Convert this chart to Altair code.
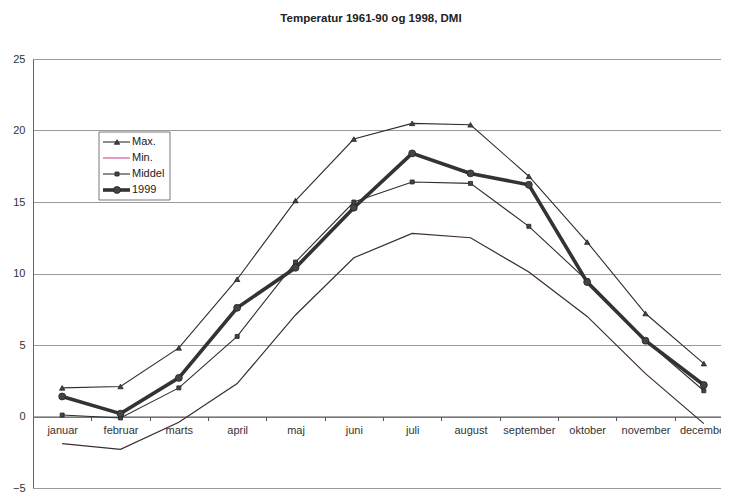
import altair as alt
import pandas as pd

months = ["januar", "februar", "marts", "april", "maj", "juni", "juli",
          "august", "september", "oktober", "november", "december"]
max_t = [2.0, 2.1, 4.8, 9.6, 15.1, 19.4, 20.5, 20.4, 16.8, 12.2, 7.2, 3.7]
min_t = [-1.9, -2.3, -0.4, 2.3, 7.1, 11.1, 12.8, 12.5, 10.1, 7.0, 3.0, -0.5]
middel_t = [0.1, -0.1, 2.0, 5.6, 10.8, 15.0, 16.4, 16.3, 13.3, 9.5, 5.3, 1.8]
t_1999 = [1.4, 0.2, 2.7, 7.6, 10.4, 14.6, 18.4, 17.0, 16.2, 9.4, 5.3, 2.2]
series_names = ["Max.", "Min.", "Middel", "1999"]
y_ticks = [-5, 0, 5, 10, 15, 20, 25]
title_text = "Temperatur 1961-90 og 1998, DMI"

FONT = "Liberation Sans"
H = 429

values = {"Max.": max_t, "Min.": min_t, "Middel": middel_t, "1999": t_1999}
df = pd.DataFrame({
    "month": [m for s in series_names for m in months],
    "series": [s for s in series_names for _ in months],
    "temp": [v for s in series_names for v in values[s]],
})

x_axis = alt.Axis(title=None, orient="bottom", offset=-(H / 6), labelAngle=0,
                  domainColor="#555", tickColor="#555", tickSize=4,
                  tickBand="extent", labelPadding=4, labelFont=FONT,
                  labelFontSize=11, labelColor="#333", grid=False)
x_enc = alt.X("month:N", sort=months,
              scale=alt.Scale(type="band", paddingInner=0, paddingOuter=0),
              axis=x_axis)
y_scale = alt.Scale(domain=[-5, 25], nice=False, zero=False)
y_axis = alt.Axis(title=None, values=y_ticks, grid=True, gridColor="#9a9a9a",
                  gridWidth=1, domainColor="#666", ticks=False, labelPadding=8,
                  labelFont=FONT, labelFontSize=11, labelColor="#333")

style = {
    "Max.": dict(color="#2e2e2e", legend_color="#2e2e2e", width=1.1,
                 shape="triangle-up", size=28),
    "Min.": dict(color="#3b2b33", legend_color="#d9559a", width=1.2,
                 shape=None, size=0),
    "Middel": dict(color="#2e2e2e", legend_color="#2e2e2e", width=1.1,
                   shape="square", size=16),
    "1999": dict(color="#333333", legend_color="#333333", width=3.6,
                 shape="circle", size=48),
}

layers = []
first = True
for s in ["Min.", "Middel", "Max.", "1999"]:
    st = style[s]
    d = df[df["series"] == s]
    line = alt.Chart(d).mark_line(color=st["color"], strokeWidth=st["width"]).encode(
        x=x_enc,
        y=alt.Y("temp:Q", scale=y_scale, axis=y_axis if first else None),
    )
    first = False
    layers.append(line)
    if st["shape"]:
        pts = alt.Chart(d).mark_point(shape=st["shape"], size=st["size"], filled=True,
                                      color="#444", stroke="#222", strokeWidth=0.8,
                                      opacity=1).encode(
            x=x_enc,
            y=alt.Y("temp:Q", scale=y_scale, axis=None),
        )
        layers.append(pts)

# legend
leg_df = pd.DataFrame({"series": series_names})
ly = alt.Y("series:N", sort=series_names, axis=None,
           scale=alt.Scale(type="point", domain=series_names, range=[83, 131], padding=0))

legend_layers = [alt.Chart(pd.DataFrame({"a": [0]})).mark_rect(
    fill="white", stroke="#555", strokeWidth=0.8).encode(
    x=alt.value(66), x2=alt.value(137), y=alt.value(73), y2=alt.value(141))]

for s in series_names:
    st = style[s]
    row = leg_df[leg_df["series"] == s]
    legend_layers.append(alt.Chart(row).mark_rule(
        color=st["legend_color"], strokeWidth=st["width"]).encode(
        x=alt.value(70), x2=alt.value(97), y=ly))
    if st["shape"]:
        legend_layers.append(alt.Chart(row).mark_point(
            shape=st["shape"], size=st["size"], filled=True, color="#444",
            stroke="#222", strokeWidth=0.8, opacity=1).encode(
            x=alt.value(84), y=ly))
    legend_layers.append(alt.Chart(row).mark_text(
        align="left", baseline="middle", font=FONT, fontSize=11, color="#222").encode(
        x=alt.value(99), y=ly, text="series:N"))

chart = alt.layer(*layers, *legend_layers).resolve_scale(
    y="independent"
).properties(
    width=700, height=H,
    padding={"left": 25, "top": 51, "right": -12, "bottom": 4},
    autosize=alt.AutoSizeParams(type="none"),
    title=alt.TitleParams(title_text, font=FONT, fontSize=11.5, fontWeight="bold",
                          anchor="middle", dx=-12, offset=29, color="#222"),
).configure_view(strokeWidth=0).configure(background="white")

chart.save("out.html", embed_options={"renderer": "svg", "actions": False})
